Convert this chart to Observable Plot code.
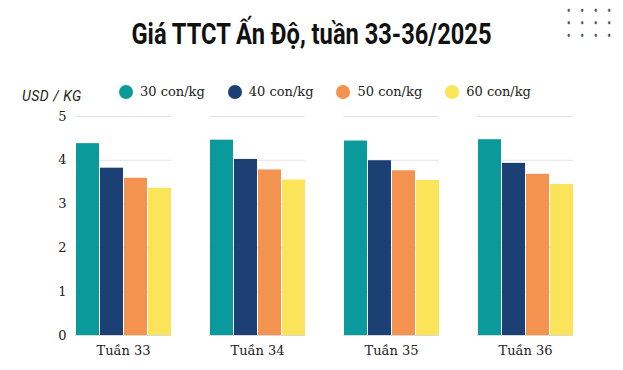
<!DOCTYPE html>
<html>
<head>
<meta charset="utf-8">
<script src="https://cdn.jsdelivr.net/npm/d3@7"></script>
<script src="https://cdn.jsdelivr.net/npm/@observablehq/plot@0.6"></script>
<style>
  html, body { margin: 0; padding: 0; background: #fff; }
  #wrap { position: relative; width: 623px; height: 370px; overflow: hidden; background: #fff; }
  #titlebox { position: absolute; top: 17px; left: 0; width: 623px; text-align: center; }
  #title { display: inline-block; white-space: nowrap; transform-origin: 50% 50%;
    font-family: Roboto, sans-serif; font-weight: 700; font-size: 29px; color: #111; }
  #unit { position: absolute; top: 88px; left: 22px; font-family: Roboto, sans-serif;
    font-style: italic; font-size: 14px; color: #222; letter-spacing: 0.5px; }
  #legend { position: absolute; top: 84px; left: 119px; display: flex; gap: 23px;
    font-family: "DejaVu Serif", serif; font-size: 13px; color: #222; }
  #legend .item { display: flex; align-items: center; }
  #legend .dot { width: 14px; height: 14px; border-radius: 50%; margin-right: 7px; }
  #dots { position: absolute; left: 562px; top: 4px; width: 54px; height: 38px;
    background-image: radial-gradient(circle, #4a5a55 1.2px, transparent 1.6px);
    background-size: 13.5px 12.5px; }
  #chart { position: absolute; top: 0; left: 0; }
</style>
</head>
<body>
<div id="wrap">
  <div id="titlebox"><span id="title">Giá TTCT Ấn Độ, tuần 33-36/2025</span></div>
  <div id="dots"></div>
  <div id="unit">USD / KG</div>
  <div id="legend"></div>
  <div id="chart"></div>
</div>
<script>
const weeks = ["Tuần 33", "Tuần 34", "Tuần 35", "Tuần 36"];
const sizes = ["30 con/kg", "40 con/kg", "50 con/kg", "60 con/kg"];
const colors = ["#0a9a9b", "#1c3f74", "#f4924f", "#fbe35a"];
const v30 = [4.38, 4.46, 4.44, 4.47];
const v40 = [3.82, 4.02, 3.99, 3.93];
const v50 = [3.59, 3.78, 3.76, 3.68];
const v60 = [3.36, 3.55, 3.54, 3.45];
const yTicks = [0, 1, 2, 3, 4, 5];

const series = [v30, v40, v50, v60];
const data = [];
weeks.forEach((w, i) => sizes.forEach((s, j) => data.push({week: w, size: s, value: series[j][i]})));

// condense title to the reference width
const t = document.getElementById("title");
const tw = t.getBoundingClientRect().width;
t.style.transform = `scaleX(${360 / tw})`;

const legend = document.getElementById("legend");
sizes.forEach((s, j) => {
  const it = document.createElement("div");
  it.className = "item";
  it.innerHTML = `<span class="dot" style="background:${colors[j]}"></span><span>${s}</span>`;
  legend.appendChild(it);
});

const chart = Plot.plot({
  width: 623,
  height: 370,
  marginTop: 116,
  marginBottom: 35,
  marginLeft: 72,
  marginRight: 47,
  style: { fontFamily: "'DejaVu Serif', serif", fontSize: "13px", color: "#222", background: "transparent" },
  fx: { domain: weeks, paddingInner: 0.28, paddingOuter: 0.01, label: null, tickSize: 0, tickPadding: 10 },
  x: { domain: sizes, axis: null, paddingInner: 0.06, paddingOuter: 0 },
  y: { domain: [0, 5], ticks: yTicks, tickFormat: "d", label: null, tickSize: 0, tickPadding: 9 },
  color: { domain: sizes, range: colors },
  marks: [
    Plot.ruleY(yTicks, { stroke: "#e4e4e4", strokeWidth: 1 }),
    Plot.barY(data, { fx: "week", x: "size", y: "value", fill: "size" }),
    Plot.ruleY([0], { stroke: "#d8d8d8", strokeWidth: 1 })
  ]
});
document.getElementById("chart").appendChild(chart);
</script>
</body>
</html>
